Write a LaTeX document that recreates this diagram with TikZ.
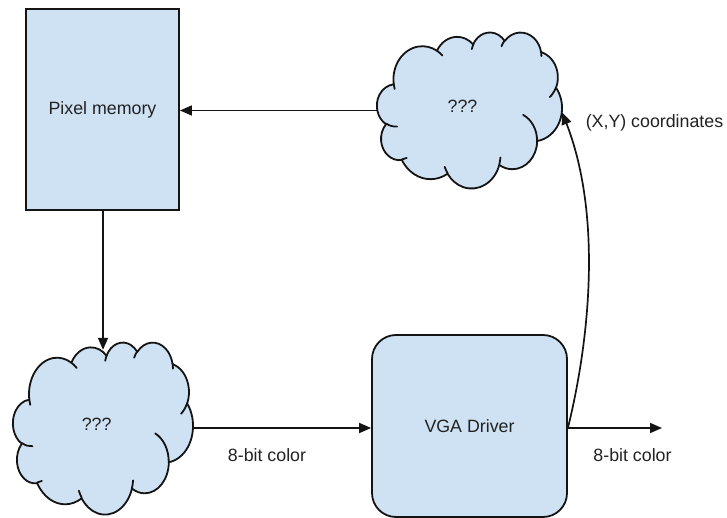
\documentclass[tikz,border=0pt]{standalone}
\usepackage{fontspec}
\setmainfont{Liberation Sans}
\usetikzlibrary{arrows.meta}
\definecolor{boxfill}{HTML}{CFE2F3}
\definecolor{edge}{HTML}{141414}
\definecolor{txt}{HTML}{222222}
\tikzset{
  declare function={
    oop(\ang,\wr,\hr)=\ang+(atan2(\wr*sin(\ang),\hr*cos(\ang))-\ang)-360*round((atan2(\wr*sin(\ang),\hr*cos(\ang))-\ang)/360);
  },
  shapeline/.style={draw=edge, line width=1.8pt, fill=boxfill},
  blockbox/.style={shapeline, rectangle, inner sep=0pt},
  cloudanchor/.style={rectangle, draw=none, inner sep=0pt},
  lbl/.style={text=txt, font=\fontsize{17.8}{21}\selectfont, inner sep=0pt},
  arr/.style={draw=edge, line width=1.7pt, -{Triangle[length=12pt,width=10pt]}},
}
\newcommand\oa[4]{arc[x radius=#1/10, y radius=#2/10, start angle={oop(#3,#1,#2)}, end angle={oop(#3+#4,#1,#2)}]}
\newcommand\oocloud[4]{%
  \pgfmathsetmacro\ooxs{#3/4320}\pgfmathsetmacro\ooys{#4/4320}%
  \begin{scope}[shift={(#1,#2)}, x=\ooxs pt, y=-\ooys pt, line join=round]
    \draw[shapeline] (390,1437)
      \oa{6753}{9190}{-190.4875}{123.7805}
      \oa{5333}{7267}{-144.1024}{89.9452}
      \oa{4365}{5945}{-145.8079}{99.7230}
      \oa{4857}{6595}{-130.9861}{117.2417}
      \oa{5333}{7273}{-78.7089}{109.0269}
      \oa{6775}{9220}{-46.2673}{130.2690}
      \oa{5785}{7867}{0.6250}{114.0333}
      \oa{6752}{9215}{22.4516}{115.1726}
      \oa{7720}{10543}{66.2426}{75.7110}
      \oa{4360}{5918}{-274.9421}{146.7356}
      \oa{4345}{5945}{-246.8285}{152.5189}
      -- cycle;
    \draw[draw=edge, line width=1.8pt, line cap=round]
      (469.3,2617.7) \oa{4345}{5945}{86.7420}{26.4295}
      (692.8,3489.9) \oa{4360}{5918}{73.6105}{11.4475}
      (1647.8,3909.0) \oa{6752}{9215}{137.6242}{14.0811}
      (2882.7,3475.1) \oa{6752}{9215}{6.4533}{15.9984}
      (3412.9,2295.4) \oa{5785}{7867}{-70.2924}{70.9174}
      (4179.8,1535.4) \oa{5333}{7273}{30.3180}{27.7515}
      (3832.4,542.6) \oa{4857}{6595}{-13.7443}{14.8589}
      (2907.8,395.2) \oa{4857}{6595}{-149.1815}{18.1954}
      (2214.1,472.0) \oa{4365}{5945}{-163.4943}{17.6864}
      (1400.0,519.2) \oa{6753}{9190}{-66.7070}{12.3194}
      (412.7,1578.9) \oa{6753}{9190}{157.6544}{11.8582};
  \end{scope}}
\begin{document}
\begin{tikzpicture}[x=1pt, y=-1pt]
  \path[use as bounding box, fill=white] (0,0) rectangle (727,518);

  % clouds
  \oocloud{377}{32}{185}{156}
  \oocloud{13}{342}{180}{172}
  \node[cloudanchor, minimum width=185pt, minimum height=156pt] (c1) at (469.5,110.5) {};
  \node[cloudanchor, minimum width=180pt, minimum height=172pt] (c2) at (103,428) {};
  \node[lbl] (q1) at (462.5,106.5) {???};
  \node[lbl] (q2) at (96.6,424) {???};

  % blocks
  \node[blockbox, lbl, minimum width=153pt, minimum height=201pt] (pm) at (102.5,109.5) {Pixel memory};
  \node[blockbox, lbl, rounded corners=24pt, minimum width=195pt, minimum height=182pt] (vga) at (469.5,426) {VGA Driver};

  % labels
  \node[lbl] (l1) at (267,455) {8-bit color};
  \node[lbl] (l2) at (632.5,455) {8-bit color};
  \node[lbl] (l3) at (654.5,123) {(X,Y) coordinates};

  % connectors
  \coordinate (vout) at (c2.east -| vga.east);
  \coordinate (outend) at (662,428);
  \draw[arr] (c1.west) -- (c1.west -| pm.east);
  \draw[arr, shorten >=-8pt] (c2.north |- pm.south) -- (c2.north);
  \draw[arr] (c2.east) -- (c2.east -| vga.west);
  \draw[arr] (vout) -- (outend);
  \draw[arr] (vout) .. controls (590,338) and (602,215) .. ([yshift=-2pt]c1.east);
\end{tikzpicture}
\end{document}
